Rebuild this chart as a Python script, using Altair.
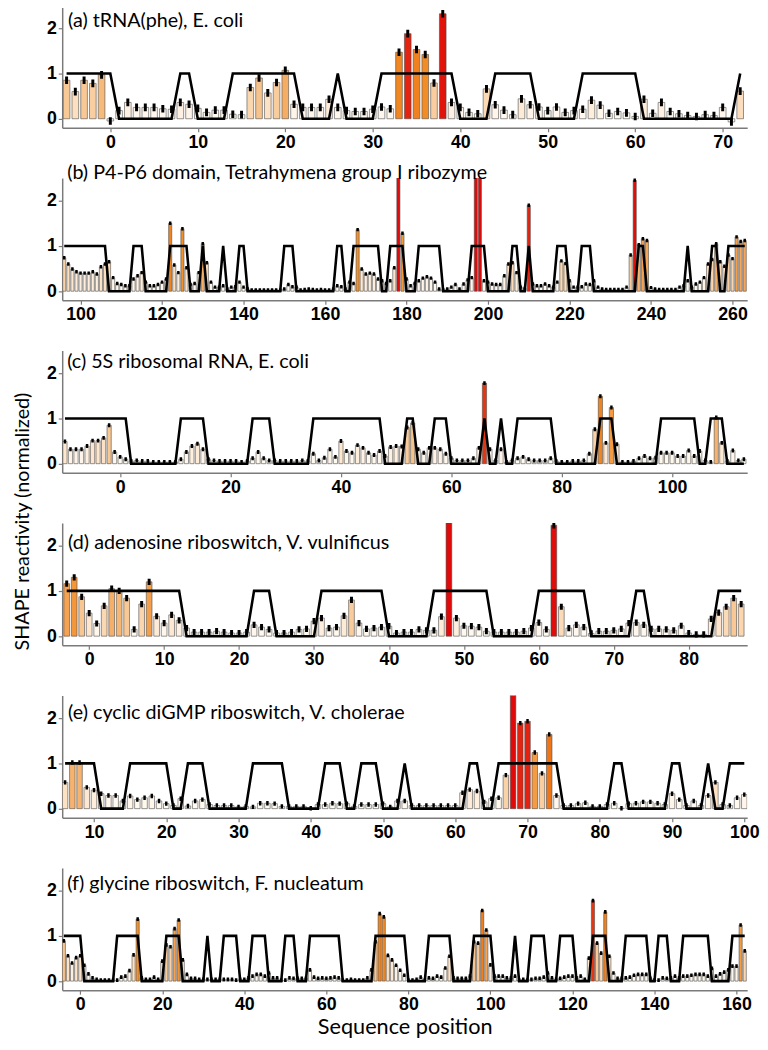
import altair as alt
import pandas as pd

# ---------------- data ----------------
# (a) tRNA(phe), E. coli  -- positions -5..72
a_start = -5
a_vals = [0.85, 0.60, 0.85, 0.78, 0.97, -0.05, 0.18, 0.36, 0.25, 0.25,
          0.25, 0.22, 0.21, 0.36, 0.32, 0.23, 0.14, 0.19, 0.19, 0.10,
          0.09, 0.69, 0.90, 0.57, 0.80, 1.07, 0.32, 0.25, 0.25, 0.25,
          0.43, 0.25, 0.18, 0.16, 0.16, 0.21, 0.26, 0.22, 1.47, 1.88,
          1.53, 1.42, 0.79, 2.32, 0.36, 0.25, 0.14, 0.11, 0.66, 0.31,
          0.19, 0.09, 0.44, 0.31, 0.26, 0.18, 0.26, 0.14, 0.18, 0.21,
          0.41, 0.30, 0.12, 0.16, 0.13, 0.05, 0.43, 0.12, 0.36, 0.16,
          0.11, 0.07, 0.05, 0.09, 0.07, 0.25, -0.07, 0.61]
a_unpaired = [(-5, 0), (8, 9), (14, 21), (26, 26), (31, 39), (44, 48), (54, 60), (72, 72)]
a_ticks = [0, 10, 20, 30, 40, 50, 60, 70]

# (b) P4-P6 domain -- positions 96..263
b_start = 96
b_vals = [0.74, 0.60, 0.49, 0.43, 0.40, 0.40, 0.40, 0.43, 0.38, 0.54,
          0.60, 0.65, 0.30, 0.17, 0.15, 0.12, 0.12, 0.27, 0.34, 0.41,
          0.20, 0.12, 0.12, 0.15, 0.20, 0.27, 1.50, 0.58, 0.41, 1.38,
          0.52, 0.15, 0.17, 0.41, 1.05, 0.63, 0.20, 0.09, 0.09, 0.12,
          0.05, 0.09, 0.10, 0.20, 0.09, 0.05, 0.03, 0.03, 0.03, 0.03,
          0.03, 0.03, 0.03, 0.03, 0.05, 0.15, 0.10, 0.09, 0.03, 0.04,
          0.05, 0.04, 0.03, 0.04, 0.03, 0.03, 0.05, 0.12, 0.10, 0.05,
          0.20, 0.17, 1.36, 0.49, 0.38, 0.40, 0.38, 0.27, 0.23, 0.17,
          0.23, 0.52, 2.80, 1.28, 0.27, 0.12, 0.17, 0.23, 0.29, 0.32,
          0.29, 0.20, 0.05, 0.03, 0.05, 0.09, 0.15, 0.05, 0.16, 0.25,
          0.30, 2.80, 2.80, 0.23, 0.20, 0.16, 0.15, 0.15, 0.34, 0.60,
          0.63, 0.41, 0.09, 0.06, 1.90, 0.16, 0.12, 0.12, 0.16, 0.12,
          0.09, 0.20, 0.67, 0.61, 0.23, 0.09, 0.09, 0.10, 0.16, 0.15,
          0.23, 0.09, 0.05, 0.04, 0.04, 0.04, 0.04, 0.04, 0.09, 0.80,
          2.45, 1.03, 1.16, 1.12, 0.08, 0.05, 0.04, 0.04, 0.04, 0.04,
          0.04, 0.09, 0.12, 0.23, 0.09, 0.16, 0.20, 0.30, 0.60, 0.70,
          1.05, 0.65, 0.55, 0.80, 0.72, 1.20, 1.10, 1.12]
b_unpaired = [(96, 106), (113, 115), (122, 126), (130, 130), (135, 135), (139, 140),
              (150, 152), (163, 164), (167, 173), (176, 179), (183, 188), (196, 199),
              (206, 207), (210, 210), (217, 219), (223, 225), (237, 238), (249, 249),
              (255, 256), (259, 263)]
b_ticks = [100, 120, 140, 160, 180, 200, 220, 240, 260]

# (c) 5S ribosomal RNA -- positions -10..113
c_start = -10
c_vals = [0.49, 0.32, 0.32, 0.32, 0.39, 0.51, 0.51, 0.57, 0.85, 0.26,
          0.15, 0.10, 0.06, 0.07, 0.06, 0.06, 0.04, 0.04, 0.04, 0.04,
          0.04, 0.10, 0.26, 0.39, 0.44, 0.32, 0.10, 0.07, 0.06, 0.06,
          0.06, 0.06, 0.04, 0.06, 0.12, 0.26, 0.12, 0.07, 0.07, 0.06,
          0.06, 0.06, 0.06, 0.07, 0.06, 0.22, 0.07, 0.13, 0.32, 0.15,
          0.50, 0.28, 0.24, 0.41, 0.35, 0.24, 0.19, 0.28, 0.17, 0.37,
          0.39, 0.38, 0.80, 0.90, 0.32, 0.24, 0.35, 0.35, 0.32, 0.22,
          0.12, 0.07, 0.07, 0.07, 0.12, 0.35, 1.78, 0.32, 0.07, 0.32,
          0.04, 0.07, 0.12, 0.15, 0.10, 0.07, 0.07, 0.07, 0.12, 0.06,
          0.04, 0.04, 0.06, 0.06, 0.07, 0.22, 0.76, 1.49, 0.46, 1.24,
          0.43, 0.04, 0.04, 0.06, 0.12, 0.17, 0.12, 0.13, 0.24, 0.24,
          0.24, 0.17, 0.17, 0.29, 0.17, 0.28, 0.07, 0.04, 1.02, 0.46,
          0.06, 0.29, 0.07, 0.10]
c_unpaired = [(-10, 1), (11, 15), (24, 27), (35, 47), (52, 53), (57, 59), (66, 66),
              (69, 69), (72, 78), (87, 89), (98, 104), (107, 109)]
c_ticks = [0, 20, 40, 60, 80, 100]

# (d) adenosine riboswitch -- positions -3..87
d_start = -3
d_vals = [1.16, 1.30, 0.87, 0.51, 0.28, 0.67, 1.05, 1.00, 0.84, 0.15,
          0.71, 1.20, 0.44, 0.29, 0.47, 0.35, 0.18, 0.09, 0.09, 0.09,
          0.11, 0.09, 0.07, 0.07, 0.09, 0.25, 0.20, 0.15, 0.07, 0.07,
          0.09, 0.15, 0.16, 0.33, 0.40, 0.18, 0.20, 0.45, 0.80, 0.29,
          0.16, 0.18, 0.20, 0.22, 0.07, 0.09, 0.09, 0.15, 0.13, 0.13,
          0.43, 2.80, 0.40, 0.23, 0.22, 0.20, 0.11, 0.09, 0.09, 0.09,
          0.09, 0.11, 0.18, 0.30, 0.15, 2.45, 0.65, 0.18, 0.25, 0.20,
          0.06, 0.11, 0.11, 0.13, 0.16, 0.29, 0.30, 0.25, 0.16, 0.16,
          0.15, 0.13, 0.23, 0.07, 0.04, 0.04, 0.38, 0.52, 0.65, 0.84,
          0.71]
d_unpaired = [(-3, 12), (22, 24), (31, 39), (46, 53), (60, 66), (73, 74), (84, 87)]
d_ticks = [0, 10, 20, 30, 40, 50, 60, 70, 80]

# (e) cyclic diGMP riboswitch -- positions 6..100
e_start = 6
e_vals = [0.58, 1.02, 1.02, 0.47, 0.41, 0.33, 0.29, 0.29, 0.17, 0.28,
          0.20, 0.24, 0.28, 0.17, 0.11, 0.07, 0.22, 0.06, 0.17, 0.20,
          0.09, 0.07, 0.07, 0.07, 0.04, 0.05, 0.04, 0.12, 0.12, 0.11,
          0.05, 0.05, 0.05, 0.05, 0.01, 0.09, 0.09, 0.12, 0.11, 0.11,
          0.05, 0.09, 0.09, 0.09, 0.11, 0.04, 0.17, 0.17, 0.07, 0.07,
          0.07, 0.07, 0.07, 0.07, 0.07, 0.35, 0.42, 0.39, 0.15, 0.22,
          0.24, 0.74, 2.60, 1.89, 1.93, 1.24, 0.78, 1.64, 0.29, 0.07,
          0.07, 0.11, 0.13, 0.05, 0.05, 0.09, 0.12, 0.01, 0.11, 0.12,
          0.15, 0.15, 0.12, 0.09, 0.33, 0.20, 0.07, 0.17, 0.07, 0.29,
          0.58, 0.09, 0.07, 0.24, 0.31]
e_unpaired = [(6, 10), (15, 20), (23, 25), (32, 36), (42, 44), (47, 49), (53, 53),
              (62, 63), (66, 74), (82, 83), (90, 91), (95, 95), (98, 100)]
e_ticks = [10, 20, 30, 40, 50, 60, 70, 80, 90, 100]

# (f) glycine riboswitch -- positions -4..162
f_start = -4
f_vals = [0.89, 0.56, 0.40, 0.52, 0.56, 0.35, 0.16, 0.07, 0.04, 0.02,
          0.02, 0.02, 0.02, 0.02, 0.09, 0.11, 0.23, 0.58, 1.37, 0.07,
          0.04, 0.04, 0.09, 0.04, 0.44, 0.80, 0.76, 1.16, 1.35, 0.47,
          0.15, 0.06, 0.06, 0.04, 0.04, 0.04, 0.04, 0.04, 0.04, 0.04,
          0.04, 0.04, 0.02, 0.04, 0.04, 0.07, 0.11, 0.15, 0.15, 0.11,
          0.18, 0.07, 0.07, 0.02, 0.02, 0.07, 0.06, 0.06, 0.06, 0.06,
          0.25, 0.09, 0.06, 0.07, 0.06, 0.07, 0.09, 0.07, 0.02, 0.02,
          0.04, 0.02, 0.02, 0.02, 0.07, 0.25, 0.87, 1.49, 1.42, 0.57,
          0.47, 0.35, 0.24, 0.13, 0.02, 0.02, 0.04, 0.09, 0.02, 0.07,
          0.06, 0.11, 0.09, 0.29, 0.55, 0.07, 0.06, 0.06, 0.06, 0.11,
          0.87, 0.84, 1.56, 1.13, 0.36, 0.11, 0.11, 0.11, 0.07, 0.07,
          0.11, 0.02, 0.04, 0.02, 0.04, 0.06, 0.06, 0.09, 0.18, 0.07,
          0.04, 0.06, 0.09, 0.11, 0.11, 0.07, 0.11, 0.04, 0.51, 1.78,
          0.84, 0.62, 1.53, 0.55, 0.18, 0.06, 0.06, 0.07, 0.09, 0.13,
          0.15, 0.15, 0.15, 0.06, 0.02, 0.02, 0.07, 0.06, 0.07, 0.11,
          0.07, 0.11, 0.11, 0.13, 0.15, 0.15, 0.15, 0.11, 0.28, 0.11,
          0.16, 0.20, 0.25, 0.33, 0.33, 1.24, 0.67]
f_unpaired = [(-4, 0), (9, 14), (21, 24), (31, 31), (35, 38), (42, 45), (50, 52),
              (56, 63), (72, 79), (85, 90), (96, 100), (106, 106), (110, 113),
              (117, 120), (125, 128), (133, 138), (141, 143), (147, 153), (159, 162)]
f_ticks = [0, 20, 40, 60, 80, 100, 120, 140, 160]

titles = ["(a) tRNA(phe), E. coli",
          "(b) P4-P6 domain, Tetrahymena  group I ribozyme",
          "(c) 5S ribosomal RNA, E. coli",
          "(d) adenosine riboswitch, V. vulnificus",
          "(e) cyclic diGMP riboswitch, V. cholerae",
          "(f) glycine riboswitch, F. nucleatum"]

color_domain = [0, 0.3, 0.6, 0.9, 1.1, 1.4, 1.65, 1.8, 2.5]
color_range = ['#ffffff', '#fff6ec', '#fcdfc0', '#f7c38c', '#f5a85c', '#f28e26',
               '#ee7418', '#e52612', '#e00a0a']

W, H = 695, 124


def panel(title, start, vals, unpaired, dom, ticks, tx, ty, esize, ewidth, xtitle=None):
    pos = list(range(start, start + len(vals)))
    unp = [1 if any(a <= p <= b for a, b in unpaired) else 0 for p in pos]
    df = pd.DataFrame({'pos': pos, 'val': vals, 'unp': unp})
    xs = alt.Scale(domain=dom, nice=False, zero=False)
    ys = alt.Scale(domain=[-0.2, 2.5], nice=False, zero=False)
    if xtitle:
        xaxis = alt.Axis(values=ticks, title=xtitle, format='d', labelFlush=False,
                         titleFontSize=22, titlePadding=3)
    else:
        xaxis = alt.Axis(values=ticks, title=None, format='d', labelFlush=False)
    yaxis = alt.Axis(values=[0, 1, 2], title=None, format='d')
    base = alt.Chart(df)
    bars = base.transform_calculate(
        x0='datum.pos - 0.38', x1='datum.pos + 0.38'
    ).mark_bar(stroke='#4d4d4d', strokeWidth=0.6, clip=True).encode(
        x=alt.X('x0:Q', scale=xs, axis=xaxis),
        x2='x1:Q',
        y=alt.Y('val:Q', scale=ys, axis=yaxis),
        y2=alt.datum(0),
        fill=alt.Fill('val:Q', scale=alt.Scale(domain=color_domain, range=color_range,
                                                clamp=True), legend=None),
    )
    errs = base.mark_point(shape='M0,-1L0,1', filled=False, color='black',
                           strokeWidth=ewidth, size=esize, clip=True, opacity=1).encode(
        x=alt.X('pos:Q', scale=xs, axis=xaxis),
        y=alt.Y('val:Q', scale=ys, axis=yaxis),
    )
    line = base.mark_line(color='black', strokeWidth=2.6, clip=True).encode(
        x=alt.X('pos:Q', scale=xs, axis=xaxis),
        y=alt.Y('unp:Q', scale=ys, axis=yaxis),
    )
    label = alt.Chart(pd.DataFrame({'t': [title]})).mark_text(
        align='left', baseline='top', font='Lato', fontSize=20, color='black'
    ).encode(x=alt.value(tx), y=alt.value(ty), text='t:N')
    return alt.layer(bars, errs, line, label).properties(width=W, height=H)


panels = [
    panel(titles[0], a_start, a_vals, a_unpaired, [-5.5, 72.8], a_ticks, 6, 6, 60, 3),
    panel(titles[1], b_start, b_vals, b_unpaired, [95.5, 263.6], b_ticks, 5, -15, 12, 2.5),
    panel(titles[2], c_start, c_vals, c_unpaired, [-10.5, 113.6], c_ticks, 5, 2, 16, 2.5),
    panel(titles[3], d_start, d_vals, d_unpaired, [-3.6, 87.8], d_ticks, 6, 10, 40, 3),
    panel(titles[4], e_start, e_vals, e_unpaired, [5.6, 100.4], e_ticks, 6, 8, 20, 2.5),
    panel(titles[5], f_start, f_vals, f_unpaired, [-4.4, 162.6], f_ticks, 5, 6, 14, 2.5,
          xtitle='Sequence position'),
]

chart = alt.vconcat(*panels, spacing=51, bounds='flush').properties(
    title=alt.TitleParams(text='SHAPE reactivity (normalized)', orient='left', anchor='middle',
                          font='Lato', fontSize=20, fontWeight='normal', color='black', offset=14),
    padding={'left': 4, 'top': -10, 'right': 0, 'bottom': -6},
).configure_view(stroke=None).configure_axis(
    domainColor='#7a7a7a', domainWidth=1.5, tickColor='#7a7a7a', tickSize=4, tickWidth=1.2,
    labelFont='Liberation Sans', labelFontWeight='bold', labelFontSize=18, labelColor='black',
    labelPadding=2, grid=False,
    titleFont='Lato', titleFontSize=21, titleFontWeight='normal', titleColor='black',
    titlePadding=4,
)

chart.save('out.html', embed_options={'renderer': 'svg', 'actions': False})
